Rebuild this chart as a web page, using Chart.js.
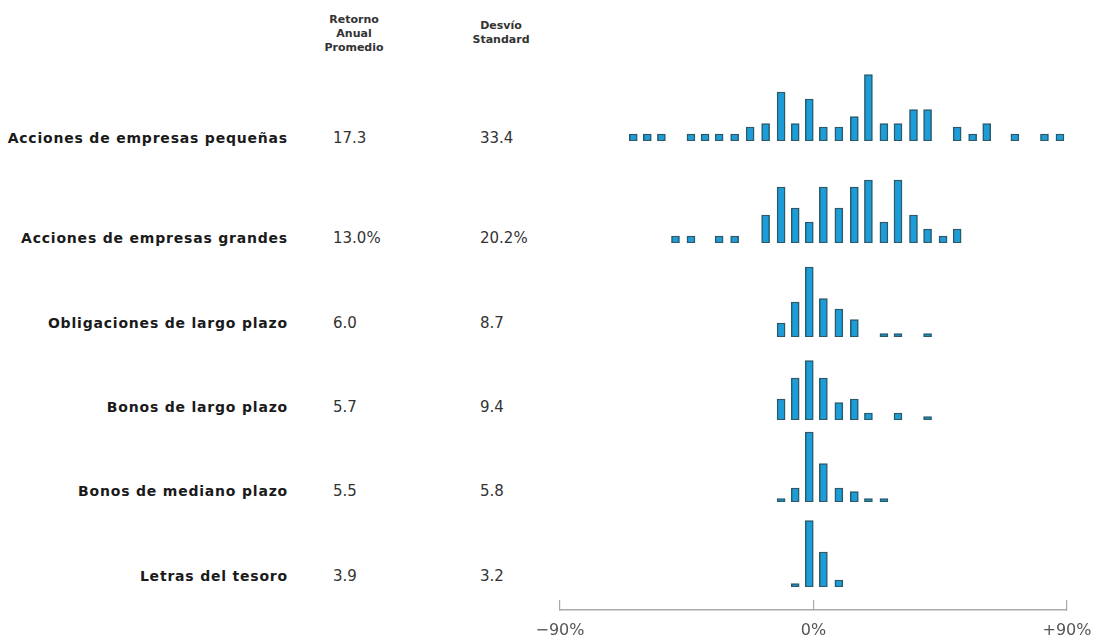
<!DOCTYPE html>
<html>
<head>
<meta charset="utf-8">
<script src="https://cdn.jsdelivr.net/npm/chart.js@4.4.1/dist/chart.umd.min.js"></script>
<style>
  body { margin: 0; background: #fff; }
  #page { position: relative; width: 1109px; height: 641px; overflow: hidden; background: #fff; }
  canvas { position: absolute; }
  .head { position: absolute; font: bold 11px "DejaVu Sans", sans-serif; color: #333; text-align: center; line-height: 14px; }
  .name { position: absolute; right: 821px; font: bold 14px "DejaVu Sans", sans-serif; letter-spacing: 0.8px; color: #1a1a1a; line-height: 18px; white-space: nowrap; }
  .num { position: absolute; font: 15px "DejaVu Sans", sans-serif; color: #333; line-height: 18px; white-space: nowrap; }
</style>
</head>
<body>
<div id="page"></div>
<script>
// asset classes and summary stats
const assetClasses = ['Acciones de empresas pequeñas', 'Acciones de empresas grandes', 'Obligaciones de largo plazo',
                      'Bonos de largo plazo', 'Bonos de mediano plazo', 'Letras del tesoro'];
const avgReturn = [17.3, 13.0, 6.0, 5.7, 5.5, 3.9];
const stdDev = [33.4, 20.2, 8.7, 9.4, 5.8, 3.2];

// histogram bin centres (% return), shared by all rows
const bins = [-64, -59, -54, -49, -43.5, -38.5, -33.5, -28, -22.5, -17, -11.5, -6.5, -1.5, 3.5, 9,
              14.5, 19.5, 25, 30, 35.5, 40.5, 46, 51, 56.5, 61.5, 66.5, 71.5, 77, 82, 87.5];

// number of years in each bin
const smallStocks = [1, 1, 1, 0, 1, 1, 1, 1, 2, 2.5, 7, 2.5, 6, 2, 2, 3.5, 9.5, 2.5, 2.5, 4.5, 4.5, 0, 2, 1, 2.5, 0, 1, 0, 1, 1];
const largeStocks = [0, 0, 0, 1, 1, 0, 1, 1, 0, 4, 8, 5, 3, 8, 5, 8, 9, 3, 9, 4, 2, 1, 2, 0, 0, 0, 0, 0, 0, 0];
const corpBonds   = [0, 0, 0, 0, 0, 0, 0, 0, 0, 0, 2, 5, 10, 5.5, 4, 2.5, 0, 0.5, 0.5, 0, 0.5, 0, 0, 0, 0, 0, 0, 0, 0, 0];
const govBonds    = [0, 0, 0, 0, 0, 0, 0, 0, 0, 0, 3, 6, 8.5, 6, 2.5, 3, 1, 0, 1, 0, 0.5, 0, 0, 0, 0, 0, 0, 0, 0, 0];
const midBonds    = [0, 0, 0, 0, 0, 0, 0, 0, 0, 0, 0.5, 2, 10, 5.5, 2, 1.5, 0.5, 0.5, 0, 0, 0, 0, 0, 0, 0, 0, 0, 0, 0, 0];
const tBills      = [0, 0, 0, 0, 0, 0, 0, 0, 0, 0, 0, 0.5, 9.5, 5, 1, 0, 0, 0, 0, 0, 0, 0, 0, 0, 0, 0, 0, 0, 0, 0];
const rows = [smallStocks, largeStocks, corpBonds, govBonds, midBonds, tBills];

const tickValues = [-90, 0, 90];
const tickLabels = ['\u221290%', '0%', '+90%'];

// layout
const ROW_BASE = [141, 243, 337, 420, 502, 587];
const LABEL_Y = [138, 238, 323, 407, 491, 576];
const PLOT_LEFT = 560, PLOT_W = 507, ROW_H = 80, PX_PER_YEAR = 7;
const BAR_FILL = '#1b9dd9', BAR_EDGE = '#2b5a6b';

const page = document.getElementById('page');

function addDiv(cls, html, css) {
  const d = document.createElement('div');
  d.className = cls;
  d.innerHTML = html;
  Object.assign(d.style, css);
  page.appendChild(d);
  return d;
}

function addCanvas(left, top, w, h) {
  const c = document.createElement('canvas');
  c.width = w; c.height = h;
  c.style.left = left + 'px'; c.style.top = top + 'px';
  page.appendChild(c);
  return c;
}

// column headers
addDiv('head', 'Retorno<br>Anual<br>Promedio', { left: '314px', top: '13px', width: '80px' });
addDiv('head', 'Desvío<br>Standard', { left: '461px', top: '19px', width: '80px' });

rows.forEach((counts, i) => {
  const ty = (LABEL_Y[i] - 9) + 'px';
  addDiv('name', assetClasses[i], { top: ty });
  addDiv('num', avgReturn[i].toFixed(1) + (i === 1 ? '%' : ''), { left: '333px', top: ty });
  addDiv('num', stdDev[i].toFixed(1) + (i === 1 ? '%' : ''), { left: '480px', top: ty });

  const cv = addCanvas(PLOT_LEFT, ROW_BASE[i] - ROW_H, PLOT_W, ROW_H);
  new Chart(cv, {
    type: 'bar',
    data: {
      datasets: [{
        data: bins.map((b, k) => ({ x: b, y: counts[k] })).filter(p => p.y > 0),
        backgroundColor: BAR_FILL,
        borderColor: BAR_EDGE,
        borderWidth: 1.5,
        borderSkipped: false,
        barThickness: 8
      }]
    },
    options: {
      responsive: false,
      animation: false,
      events: [],
      layout: { padding: 0 },
      plugins: { legend: { display: false }, tooltip: { enabled: false } },
      scales: {
        x: { type: 'linear', min: -90, max: 90, offset: false, display: false },
        y: { min: 0, max: ROW_H / PX_PER_YEAR, display: false }
      }
    }
  });
});

// bottom axis: ticks point up into the (empty) chart area
const axisCv = addCanvas(PLOT_LEFT - 40, 560, PLOT_W + 80, 81);
new Chart(axisCv, {
  type: 'scatter',
  data: { datasets: [] },
  options: {
    responsive: false,
    animation: false,
    events: [],
    layout: { padding: { left: 40, right: 40, top: 0, bottom: 0 } },
    plugins: { legend: { display: false }, tooltip: { enabled: false } },
    scales: {
      x: {
        type: 'linear', min: -90, max: 90, offset: false,
        afterBuildTicks: s => { s.ticks = tickValues.map(v => ({ value: v })); },
        afterFit: s => { s.paddingLeft = 0; s.paddingRight = 0; s.height = 31; },
        ticks: {
          autoSkip: false, maxRotation: 0, padding: 21, color: '#555',
          font: { family: 'DejaVu Sans', size: 16 },
          callback: v => tickLabels[tickValues.indexOf(v)]
        },
        grid: { drawOnChartArea: false, drawTicks: true, tickLength: -10, color: '#aaa', lineWidth: 1.2 },
        border: { display: true, color: '#aaa', width: 1.5 }
      },
      y: { min: 0, max: 1, display: false }
    }
  }
});
</script>
</body>
</html>
